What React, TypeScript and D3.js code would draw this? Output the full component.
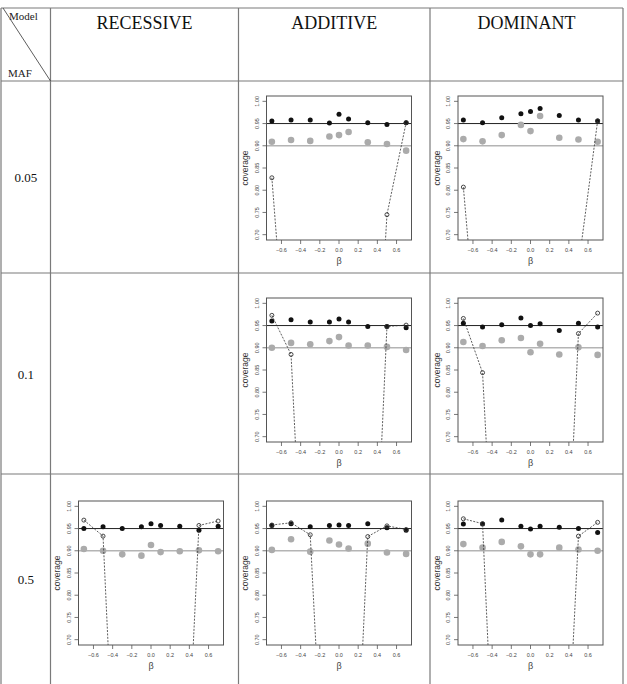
import * as d3 from "d3";

const BETA = [-0.7, -0.5, -0.3, -0.1, 0, 0.1, 0.3, 0.5, 0.7];
const X_TICKS = [-0.6, -0.4, -0.2, 0, 0.2, 0.4, 0.6];
const Y_TICKS = [0.7, 0.75, 0.8, 0.85, 0.9, 0.95, 1.0];
const MODELS = ["RECESSIVE", "ADDITIVE", "DOMINANT"];
const MAFS = ["0.05", "0.1", "0.5"];

// coverage values per panel: black = filled dark, gray = filled light, open = dashed open circles
const add005Black = [0.956, 0.958, 0.958, 0.951, 0.971, 0.96, 0.952, 0.948, 0.952];
const add005Gray = [0.909, 0.913, 0.911, 0.921, 0.924, 0.931, 0.908, 0.904, 0.889];
const add005Open = [0.828, 0.27, 0.05, 0.02, 0.02, 0.02, 0.0, 0.745, 0.952];

const dom005Black = [0.958, 0.952, 0.963, 0.972, 0.977, 0.984, 0.968, 0.958, 0.956];
const dom005Gray = [0.915, 0.91, 0.924, 0.947, 0.933, 0.967, 0.918, 0.914, 0.909];
const dom005Open = [0.807, 0.31, 0.05, 0.02, 0.02, 0.02, 0.1, 0.63, 0.956];

const add01Black = [0.96, 0.963, 0.958, 0.958, 0.965, 0.958, 0.948, 0.948, 0.945];
const add01Gray = [0.9, 0.911, 0.908, 0.915, 0.924, 0.905, 0.905, 0.902, 0.895];
const add01Open = [0.973, 0.885, 0.01, 0.0, 0.0, 0.0, 0.0, 0.948, 0.951];

const dom01Black = [0.955, 0.947, 0.952, 0.967, 0.95, 0.954, 0.939, 0.955, 0.947];
const dom01Gray = [0.913, 0.904, 0.917, 0.922, 0.89, 0.909, 0.885, 0.901, 0.884];
const dom01Open = [0.966, 0.844, 0.03, 0.0, 0.0, 0.0, 0.0, 0.932, 0.978];

const rec05Black = [0.95, 0.954, 0.95, 0.954, 0.961, 0.957, 0.955, 0.946, 0.955];
const rec05Gray = [0.904, 0.9, 0.892, 0.889, 0.913, 0.897, 0.899, 0.901, 0.899];
const rec05Open = [0.969, 0.933, 0.0, 0.0, 0.0, 0.0, 0.05, 0.957, 0.967];

const add05Black = [0.957, 0.961, 0.954, 0.957, 0.958, 0.957, 0.961, 0.952, 0.946];
const add05Gray = [0.902, 0.926, 0.898, 0.923, 0.914, 0.905, 0.916, 0.896, 0.893];
const add05Open = [0.958, 0.963, 0.936, 0.09, 0.0, 0.0, 0.932, 0.956, 0.948];

const dom05Black = [0.96, 0.96, 0.969, 0.955, 0.949, 0.955, 0.953, 0.95, 0.941];
const dom05Gray = [0.915, 0.907, 0.92, 0.91, 0.892, 0.892, 0.907, 0.903, 0.9];
const dom05Open = [0.972, 0.961, 0.0, 0.0, 0.0, 0.0, 0.06, 0.933, 0.964];

const PANELS = [
  { row: 0, col: 1, black: add005Black, gray: add005Gray, open: add005Open },
  { row: 0, col: 2, black: dom005Black, gray: dom005Gray, open: dom005Open },
  { row: 1, col: 1, black: add01Black, gray: add01Gray, open: add01Open },
  { row: 1, col: 2, black: dom01Black, gray: dom01Gray, open: dom01Open },
  { row: 2, col: 0, black: rec05Black, gray: rec05Gray, open: rec05Open },
  { row: 2, col: 1, black: add05Black, gray: add05Gray, open: add05Open },
  { row: 2, col: 2, black: dom05Black, gray: dom05Gray, open: dom05Open },
];

// table grid
const COL_X = [1, 50.5, 238.5, 430, 623];
const ROW_Y = [8, 81, 273, 474, 684];
const FRAME_W = 145;
const FRAME_H = 144;
const ROW_DY = [15, 25, 27];
const SANS = "'Liberation Sans', Arial, sans-serif";
const SERIF = "'Liberation Serif', 'Times New Roman', serif";

const x = d3.scaleLinear().domain([-0.756, 0.756]).range([0, FRAME_W]);
const y = d3.scaleLinear().domain([0.688, 1.012]).range([FRAME_H, 0]);

function Panel({ p, idx }: { p: (typeof PANELS)[number]; idx: number }) {
  const left = COL_X[p.col + 1] + 28;
  const top = ROW_Y[p.row + 1] + ROW_DY[p.row];
  const dashed = d3
    .line<number>()
    .x((_, i) => x(BETA[i]))
    .y((d) => y(d))(p.open) ?? "";
  const clip = `clip-${idx}`;
  return (
    <g transform={`translate(${left},${top})`}>
      <defs>
        <clipPath id={clip}>
          <rect x={0} y={0} width={FRAME_W} height={FRAME_H} />
        </clipPath>
      </defs>
      <g clipPath={`url(#${clip})`}>
        <line x1={0} x2={FRAME_W} y1={y(0.95)} y2={y(0.95)} stroke="#222" strokeWidth={1} />
        <line x1={0} x2={FRAME_W} y1={y(0.9)} y2={y(0.9)} stroke="#b4b4b4" strokeWidth={1.4} />
        {p.gray.map((v, i) => (
          <circle key={"g" + i} cx={x(BETA[i])} cy={y(v)} r={3.3} fill="#ababab" />
        ))}
        {p.black.map((v, i) => (
          <circle key={"b" + i} cx={x(BETA[i])} cy={y(v)} r={2.5} fill="#111" />
        ))}
        <path d={dashed} fill="none" stroke="#333" strokeWidth={0.8} strokeDasharray="2,1.4" />
        {p.open.map((v, i) => (
          <circle key={"o" + i} cx={x(BETA[i])} cy={y(v)} r={2} fill="none" stroke="#333" strokeWidth={0.9} />
        ))}
      </g>
      <rect x={0} y={0} width={FRAME_W} height={FRAME_H} fill="none" stroke="#555" strokeWidth={1} />
      {X_TICKS.map((t) => (
        <g key={"xt" + t} transform={`translate(${x(t)},${FRAME_H})`}>
          <line y1={0} y2={4} stroke="#555" strokeWidth={0.8} />
          <text y={12} textAnchor="middle" fontSize={5.5} fontFamily={SANS} fill="#444">
            {d3.format(".1f")(t)}
          </text>
        </g>
      ))}
      {Y_TICKS.map((t) => (
        <g key={"yt" + t} transform={`translate(0,${y(t)})`}>
          <line x1={0} x2={-4} stroke="#555" strokeWidth={0.8} />
          <text transform="translate(-8,0) rotate(-90)" textAnchor="middle" fontSize={5.5} fontFamily={SANS} fill="#444">
            {d3.format(".2f")(t)}
          </text>
        </g>
      ))}
      <text x={FRAME_W / 2} y={FRAME_H + 24} textAnchor="middle" fontSize={9} fontFamily={SANS} fill="#444">
        β
      </text>
      <text
        transform={`translate(-18.5,${FRAME_H / 2}) rotate(-90)`}
        textAnchor="middle"
        fontSize={8.5}
        fontFamily={SANS}
        fill="#333"
      >
        coverage
      </text>
    </g>
  );
}

export default function App() {
  const W = 627;
  const H = 684;
  return (
    <svg width={W} height={H} style={{ position: "absolute", left: 0, top: 0, background: "#fff" }}>
      <rect width={W} height={H} fill="#fff" />
      {/* table grid */}
      {ROW_Y.slice(0, 4).map((ry) => (
        <line key={"r" + ry} x1={COL_X[0]} x2={COL_X[4]} y1={ry} y2={ry} stroke="#7a7a7a" strokeWidth={1.2} />
      ))}
      {COL_X.map((cx) => (
        <line key={"c" + cx} x1={cx} x2={cx} y1={ROW_Y[0]} y2={ROW_Y[4]} stroke="#7a7a7a" strokeWidth={1.2} />
      ))}
      <line x1={COL_X[0] + 2} y1={ROW_Y[0]} x2={COL_X[1]} y2={ROW_Y[1]} stroke="#333" strokeWidth={0.8} />
      <text x={9} y={20} fontSize={11} fontFamily={SERIF} fill="#222">Model</text>
      <text x={8} y={77} fontSize={11} fontFamily={SERIF} fill="#222">MAF</text>
      {MODELS.map((m, i) => (
        <text
          key={m}
          x={(COL_X[i + 1] + COL_X[i + 2]) / 2}
          y={29}
          textAnchor="middle"
          fontSize={18}
          fontFamily={SERIF}
          fill="#111"
        >
          {m}
        </text>
      ))}
      {MAFS.map((m, i) => (
        <text
          key={m}
          x={(COL_X[0] + COL_X[1]) / 2}
          y={(ROW_Y[i + 1] + Math.min(ROW_Y[i + 2], 684)) / 2 + 5}
          textAnchor="middle"
          fontSize={13}
          fontFamily={SERIF}
          fill="#111"
        >
          {m}
        </text>
      ))}
      {PANELS.map((p, i) => (
        <Panel key={i} p={p} idx={i} />
      ))}
    </svg>
  );
}
